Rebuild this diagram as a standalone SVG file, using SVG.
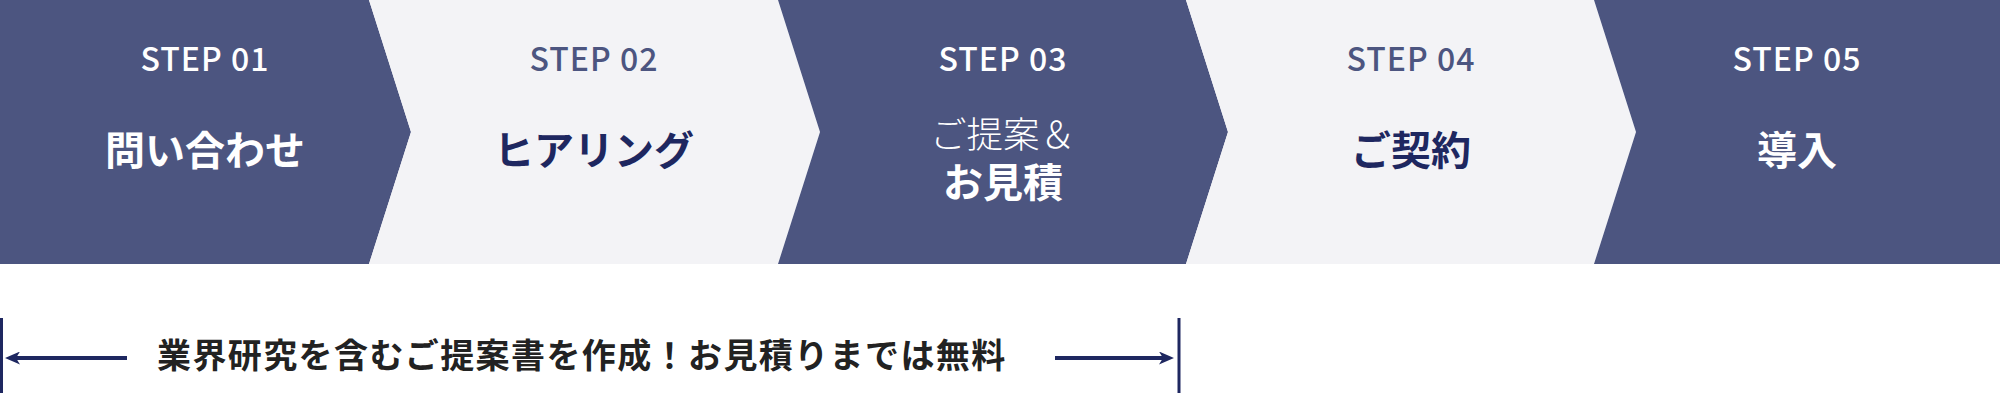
<svg xmlns="http://www.w3.org/2000/svg" width="2000" height="406" viewBox="0 0 2000 406">
  <style>
    .dark { fill: #4c5580; }
    .light { fill: #f3f3f6; }
    .lbl { font-family: "Noto Sans CJK JP", "Noto Sans", sans-serif; font-size: 32px; font-weight: 500; letter-spacing: 1px; text-anchor: middle; }
    .ttl { font-family: "Noto Sans CJK JP", sans-serif; font-size: 40px; font-weight: 700; text-anchor: middle; }
    .ttl2 { font-family: "Noto Sans CJK JP", sans-serif; font-size: 36.5px; font-weight: 300; text-anchor: middle; }
    .onDark { fill: #ffffff; }
    .lblLight { fill: #4c5580; }
    .ttlLight { fill: #1e2760; }
    .note { font-family: "Noto Sans CJK JP", sans-serif; font-size: 34px; font-weight: 700; letter-spacing: 1.4px; fill: #222222; }
    .conn { stroke: #1e2760; stroke-width: 4; fill: none; }
    .bar { stroke: #1e2760; stroke-width: 3; fill: none; }
  </style>
  <defs>
    <marker id="head" viewBox="0 0 15 13" markerWidth="15" markerHeight="13" refX="4" refY="6.5" orient="auto" markerUnits="userSpaceOnUse">
      <path d="M0,0 L15,6.5 L0,13 L4,6.5 Z" fill="#1e2760"/>
    </marker>
  </defs>

  <g id="step01">
    <polygon class="dark" points="0,0 369,0 411,132 369,264 0,264"/>
    <text class="lbl onDark" x="205" y="71">STEP 01</text>
    <text class="ttl onDark" x="205" y="165">問い合わせ</text>
  </g>
  <g id="step02">
    <polygon class="light" points="369,0 778,0 820,132 778,264 369,264 411,132"/>
    <text class="lbl lblLight" x="594" y="71">STEP 02</text>
    <text class="ttl ttlLight" x="594" y="165">ヒアリング</text>
  </g>
  <g id="step03">
    <polygon class="dark" points="778,0 1186,0 1228,132 1186,264 778,264 820,132"/>
    <text class="lbl onDark" x="1003" y="71">STEP 03</text>
    <text class="ttl2 onDark" x="1003" y="148">ご提案＆</text>
    <text class="ttl onDark" x="1003" y="197">お見積</text>
  </g>
  <g id="step04">
    <polygon class="light" points="1186,0 1594,0 1636,132 1594,264 1186,264 1228,132"/>
    <text class="lbl lblLight" x="1411" y="71">STEP 04</text>
    <text class="ttl ttlLight" x="1411" y="165">ご契約</text>
  </g>
  <g id="step05">
    <polygon class="dark" points="1594,0 2000,0 2000,264 1594,264 1636,132"/>
    <text class="lbl onDark" x="1797" y="71">STEP 05</text>
    <text class="ttl onDark" x="1797" y="165">導入</text>
  </g>

  <g id="note">
    <text class="note" x="157" y="368">業界研究を含むご提案書を作成！お見積りまでは無料</text>
  </g>

  <g id="connectors">
    <line class="bar" x1="1.5" y1="318" x2="1.5" y2="393"/>
    <line class="bar" x1="1179" y1="318" x2="1179" y2="393"/>
    <line class="conn" x1="127" y1="358" x2="16" y2="358" marker-end="url(#head)"/>
    <line class="conn" x1="1055" y1="358" x2="1163" y2="358" marker-end="url(#head)"/>
  </g>
</svg>
